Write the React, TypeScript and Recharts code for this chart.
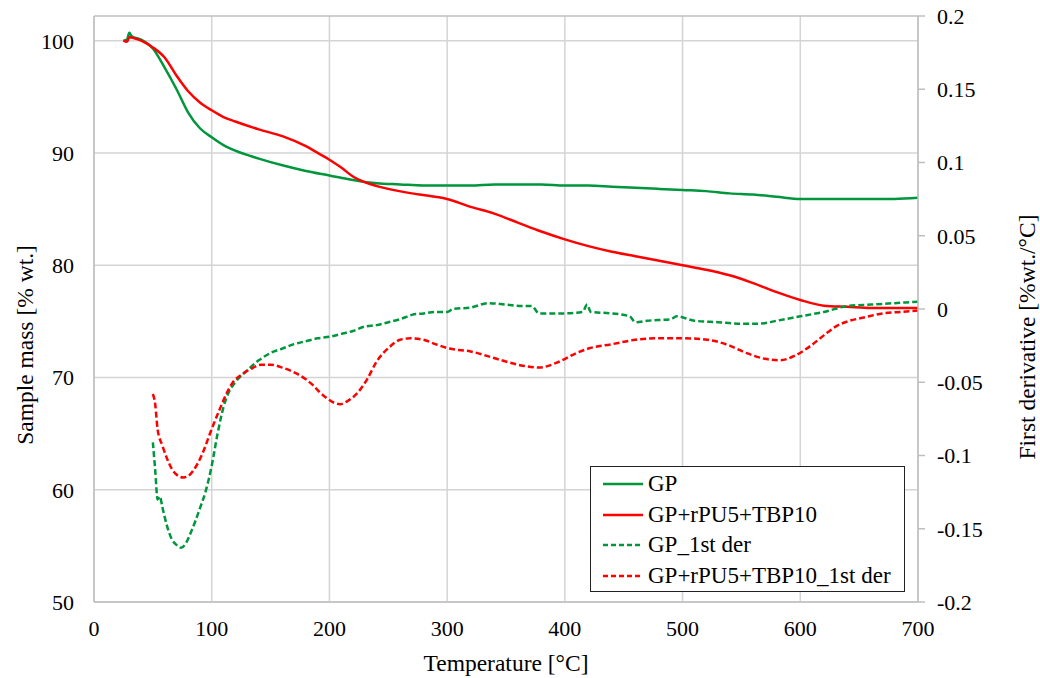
import React from 'react';
import { LineChart, Line, XAxis, YAxis, CartesianGrid, ReferenceLine } from 'recharts';

// mass curves (left axis, % wt.)
const gpTemp = [25, 28, 30, 32, 40, 50, 60, 70, 80, 90, 100, 110, 120, 140, 160, 180, 200, 220, 240, 260, 280, 300, 320, 340, 360, 380, 400, 420, 440, 460, 480, 500, 520, 540, 560, 580, 600, 620, 640, 660, 680, 700];
const gpMass = [100.0, 100.1, 100.7, 100.4, 100.1, 99.3, 97.6, 95.7, 93.6, 92.2, 91.4, 90.7, 90.2, 89.5, 88.9, 88.4, 88.0, 87.6, 87.3, 87.2, 87.1, 87.1, 87.1, 87.2, 87.2, 87.2, 87.1, 87.1, 87.0, 86.9, 86.8, 86.7, 86.6, 86.4, 86.3, 86.1, 85.9, 85.9, 85.9, 85.9, 85.9, 86.0];

const pvTemp = [25, 28, 30, 35, 40, 50, 60, 70, 80, 90, 100, 110, 120, 140, 160, 180, 190, 200, 210, 220, 230, 250, 270, 290, 300, 320, 340, 360, 380, 400, 420, 440, 460, 480, 500, 520, 540, 560, 580, 600, 620, 640, 660, 680, 700];
const pvMass = [100.0, 99.9, 100.3, 100.2, 100.0, 99.4, 98.5, 96.9, 95.5, 94.5, 93.8, 93.2, 92.8, 92.1, 91.5, 90.6, 90.0, 89.4, 88.7, 87.9, 87.4, 86.8, 86.4, 86.1, 85.9, 85.2, 84.6, 83.8, 83.0, 82.3, 81.7, 81.2, 80.8, 80.4, 80.0, 79.6, 79.1, 78.4, 77.6, 76.9, 76.4, 76.3, 76.2, 76.2, 76.2];

// first derivative curves (right axis, %wt./°C)
const gpDerTemp = [50, 52, 54, 56, 58, 62, 66, 70, 74, 78, 82, 86, 90, 95, 100, 105, 110, 115, 120, 130, 140, 150, 160, 170, 180, 190, 200, 210, 220, 230, 240, 250, 260, 270, 280, 290, 300, 305, 320, 335, 350, 365, 372, 378, 400, 415, 419, 422, 440, 455, 460, 470, 490, 495, 510, 530, 550, 565, 580, 600, 620, 640, 660, 680, 700];
const gpDer = [-0.091, -0.11, -0.13, -0.128, -0.135, -0.148, -0.157, -0.161, -0.163, -0.16, -0.153, -0.145, -0.136, -0.124, -0.107, -0.085, -0.067, -0.056, -0.05, -0.042, -0.035, -0.03, -0.027, -0.024, -0.022, -0.02, -0.019, -0.017, -0.015, -0.012, -0.011, -0.009, -0.007, -0.004, -0.003, -0.002, -0.002, 0.0, 0.001, 0.004, 0.003, 0.002, 0.002, -0.003, -0.003, -0.002, 0.003, -0.002, -0.003, -0.005, -0.009, -0.008, -0.007, -0.005, -0.008, -0.009, -0.01, -0.01, -0.008, -0.005, -0.002, 0.002, 0.003, 0.004, 0.005];

const pvDerTemp = [50, 52, 54, 58, 62, 66, 70, 76, 80, 87, 93, 99, 107, 113, 118, 125, 133, 142, 150, 160, 172, 180, 186, 192, 198, 204, 209, 215, 223, 232, 240, 251, 260, 269, 280, 290, 302, 320, 342, 360, 378, 395, 410, 420, 440, 460, 480, 500, 521, 540, 554, 570, 583, 595, 609, 620, 630, 642, 653, 670, 685, 700];
const pvDer = [-0.058, -0.065, -0.082, -0.093, -0.102, -0.109, -0.113, -0.115, -0.114, -0.107, -0.097, -0.084, -0.068, -0.057, -0.05, -0.045, -0.041, -0.038, -0.038, -0.04, -0.044, -0.048, -0.052, -0.057, -0.061, -0.064, -0.065, -0.063, -0.058, -0.048, -0.036, -0.026, -0.021, -0.02, -0.021, -0.024, -0.027, -0.029, -0.034, -0.038, -0.04, -0.036, -0.03, -0.027, -0.024, -0.021, -0.02, -0.02, -0.021, -0.025, -0.03, -0.034, -0.035, -0.032, -0.025, -0.018, -0.012, -0.008, -0.006, -0.003, -0.002, -0.001];

const xTicks = [0, 100, 200, 300, 400, 500, 600, 700];
const massTicks = [50, 60, 70, 80, 90, 100];
const derTicks = [-0.2, -0.15, -0.1, -0.05, 0, 0.05, 0.1, 0.15, 0.2];

const GREEN = '#00963c';
const RED = '#ff0000';
const FONT = '"Liberation Serif", "Times New Roman", serif';

const zip = (t: number[], v: number[]) => t.map((x, i) => ({ t: x, v: v[i] }));

const series = [
  { name: 'GP', data: zip(gpTemp, gpMass), color: GREEN, axis: 'left', dashed: false },
  { name: 'GP+rPU5+TBP10', data: zip(pvTemp, pvMass), color: RED, axis: 'left', dashed: false },
  { name: 'GP_1st der', data: zip(gpDerTemp, gpDer), color: GREEN, axis: 'right', dashed: true },
  { name: 'GP+rPU5+TBP10_1st der', data: zip(pvDerTemp, pvDer), color: RED, axis: 'right', dashed: true },
];

const tickStyle = { fontSize: 22, fill: '#000', fontFamily: FONT };

function LegendBox() {
  return (
    <div
      style={{
        position: 'absolute',
        left: 590,
        top: 466,
        width: 315,
        height: 126,
        boxSizing: 'border-box',
        border: '1.5px solid #222',
        background: '#fff',
        padding: '2px 0 0 12px',
        fontFamily: FONT,
        fontSize: 23,
        color: '#000',
      }}
    >
      {series.map((s) => (
        <div key={s.name} style={{ display: 'flex', alignItems: 'center', height: 30.5 }}>
          <svg width={42} height={10} style={{ marginRight: 3 }}>
            <line x1={0} y1={5} x2={40} y2={5} stroke={s.color} strokeWidth={2.5} strokeDasharray={s.dashed ? '5 3' : undefined} />
          </svg>
          <span>{s.name}</span>
        </div>
      ))}
    </div>
  );
}

export default function App() {
  return (
    <div style={{ position: 'absolute', left: 0, top: 0, width: 1040, height: 678, background: '#fff', fontFamily: FONT }}>
      <LineChart width={1040} height={678} margin={{ top: 16, right: 42, left: 34, bottom: 36 }} style={{ fontFamily: FONT }}>
        <CartesianGrid yAxisId="left" stroke="#d4d4d4" strokeWidth={1.5} horizontalValues={massTicks} verticalValues={xTicks} />
        <XAxis
          dataKey="t"
          type="number"
          domain={[0, 700]}
          ticks={xTicks}
          allowDataOverflow
          height={40}
          tickLine={false}
          axisLine={{ stroke: '#bfbfbf', strokeWidth: 1.5 }}
          tick={tickStyle}
          tickMargin={12}
        />
        <YAxis
          yAxisId="left"
          domain={[50, 102.2]}
          ticks={massTicks}
          allowDataOverflow
          width={60}
          tickLine={false}
          axisLine={{ stroke: '#bfbfbf', strokeWidth: 1.5 }}
          tick={tickStyle}
          tickSize={8}
          tickMargin={12}
        />
        <YAxis
          yAxisId="right"
          orientation="right"
          domain={[-0.2, 0.2]}
          ticks={derTicks}
          allowDataOverflow
          width={80}
          tickLine={{ stroke: '#bfbfbf', strokeWidth: 1.5 }}
          axisLine={{ stroke: '#bfbfbf', strokeWidth: 1.5 }}
          tick={tickStyle}
          tickSize={7}
          tickMargin={12}
          tickFormatter={(v: number) => String(v)}
        />
        <ReferenceLine yAxisId="left" y={102.2} stroke="#bfbfbf" strokeWidth={1.5} />
        {series.map((s) => (
          <Line
            key={s.name}
            name={s.name}
            data={s.data}
            dataKey="v"
            yAxisId={s.axis}
            type="monotone"
            stroke={s.color}
            strokeWidth={2.5}
            strokeDasharray={s.dashed ? '6 3' : undefined}
            dot={false}
            activeDot={false}
            isAnimationActive={false}
          />
        ))}
      </LineChart>
      <LegendBox />
      <div style={{ position: 'absolute', left: 25, top: 345, transform: 'translate(-50%, -50%) rotate(-90deg)', whiteSpace: 'nowrap', fontSize: 23.5 }}>
        Sample mass [% wt.]
      </div>
      <div style={{ position: 'absolute', left: 1027, top: 337, transform: 'translate(-50%, -50%) rotate(-90deg)', whiteSpace: 'nowrap', fontSize: 23.5 }}>
        First derivative [%wt./°C]
      </div>
      <div style={{ position: 'absolute', left: 506, top: 663, transform: 'translate(-50%, -50%)', whiteSpace: 'nowrap', fontSize: 23.5 }}>
        Temperature [°C]
      </div>
    </div>
  );
}
